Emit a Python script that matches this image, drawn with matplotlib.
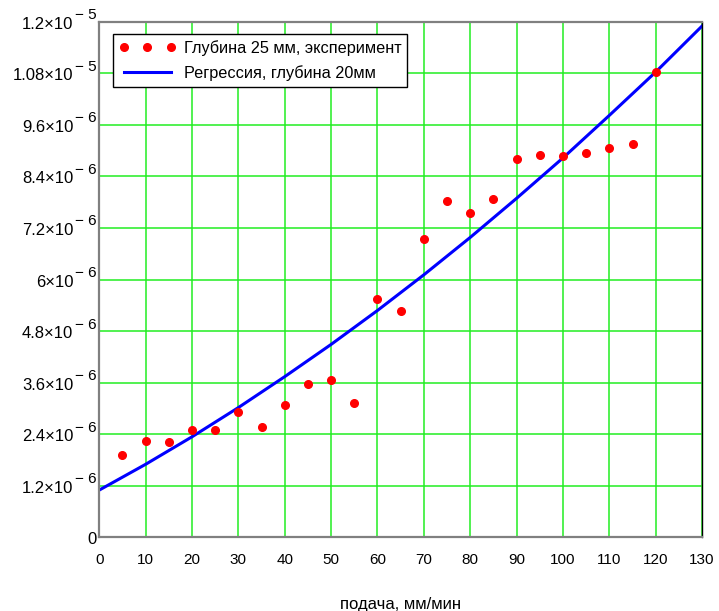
import matplotlib
matplotlib.use("Agg")
import matplotlib.pyplot as plt
from matplotlib import transforms

plt.rcParams['font.family'] = ['Liberation Sans', 'DejaVu Sans']

# Experimental points (depth 25 mm)
feed_exp = [5, 10, 15, 20, 25, 30, 35, 40, 45, 50, 55, 60,
            65, 70, 75, 80, 85, 90, 95, 100, 105, 110, 115, 120]
wear_exp = [1.91e-6, 2.24e-6, 2.21e-6, 2.50e-6, 2.51e-6, 2.91e-6, 2.56e-6, 3.09e-6,
            3.57e-6, 3.67e-6, 3.13e-6, 5.55e-6, 5.27e-6, 6.95e-6, 7.83e-6, 7.55e-6,
            7.88e-6, 8.81e-6, 8.90e-6, 8.88e-6, 8.95e-6, 9.05e-6, 9.15e-6, 10.83e-6]

# Regression curve (depth 20 mm)
feed_reg = [0, 10, 20, 30, 40, 50, 60, 70, 80, 90, 100, 110, 120, 130]
wear_reg = [1.10e-6, 1.70e-6, 2.34e-6, 3.02e-6, 3.74e-6, 4.49e-6, 5.28e-6,
            6.11e-6, 6.98e-6, 7.89e-6, 8.83e-6, 9.82e-6, 10.83e-6, 11.90e-6]

x_ticks = list(range(0, 131, 10))
y_ticks = [0, 1.2e-6, 2.4e-6, 3.6e-6, 4.8e-6, 6e-6, 7.2e-6, 8.4e-6, 9.6e-6, 1.08e-5, 1.2e-5]
y_mantissa = ['0', '1.2', '2.4', '3.6', '4.8', '6', '7.2', '8.4', '9.6', '1.08', '1.2']
y_exponent = ['', '6', '6', '6', '6', '6', '6', '6', '6', '5', '5']

fig = plt.figure(figsize=(7.19, 6.11), dpi=100)
ax = fig.add_axes([0.138, 0.1205, 0.8385, 0.844])

ax.plot(feed_exp, wear_exp, 'o', color='#ff0000', markersize=5.5,
        label='Глубина 25 мм, эксперимент', zorder=3)
ax.plot(feed_reg, wear_reg, '-', color='#0000ff', linewidth=2.2,
        label='Регрессия, глубина 20мм', zorder=2)

ax.set_xlim(0, 130)
ax.set_ylim(0, 1.2e-5)
ax.set_xticks(x_ticks)
ax.set_xticklabels([str(v) for v in x_ticks], fontsize=11)
ax.set_yticks(y_ticks)
ax.set_yticklabels([''] * len(y_ticks))
ax.tick_params(length=0)
ax.tick_params(axis='x', pad=11)

# y tick labels written as mantissa×10 with a raised exponent "− n"
ytrans = transforms.blended_transform_factory(ax.transAxes, ax.transData)
for val, man, exp in zip(y_ticks, y_mantissa, y_exponent):
    if not exp:
        ax.text(0, val, man, fontsize=12, ha='right', va='center',
                transform=transforms.offset_copy(ytrans, fig=fig, x=-3, y=-2, units='dots'))
        continue
    ax.text(0, val, man + '\u00d710', fontsize=12, ha='right', va='center',
            transform=transforms.offset_copy(ytrans, fig=fig, x=-26, y=-2.5, units='dots'))
    ax.text(0, val, '\u2212 ' + exp, fontsize=11, ha='left', va='center',
            transform=transforms.offset_copy(ytrans, fig=fig, x=-24, y=6.5, units='dots'))

ax.grid(True, color='#22ee22', linewidth=1.1)
ax.set_axisbelow(True)

for side in ['left', 'bottom', 'top']:
    ax.spines[side].set_color('#808080')
    ax.spines[side].set_linewidth(1.6)
ax.spines['right'].set_color('#000000')
ax.spines['right'].set_linewidth(1.0)

ax.set_xlabel('подача, мм/мин', fontsize=12, labelpad=22)

leg = ax.legend(loc='upper left', bbox_to_anchor=(0.023, 0.976), borderaxespad=0,
                numpoints=3, fontsize=11.7, fancybox=False, framealpha=1,
                edgecolor='black', handlelength=3.5, borderpad=0.35,
                labelspacing=0.6, handletextpad=0.5)
leg.get_frame().set_linewidth(1.0)

fig.savefig('out.png', dpi=100)
